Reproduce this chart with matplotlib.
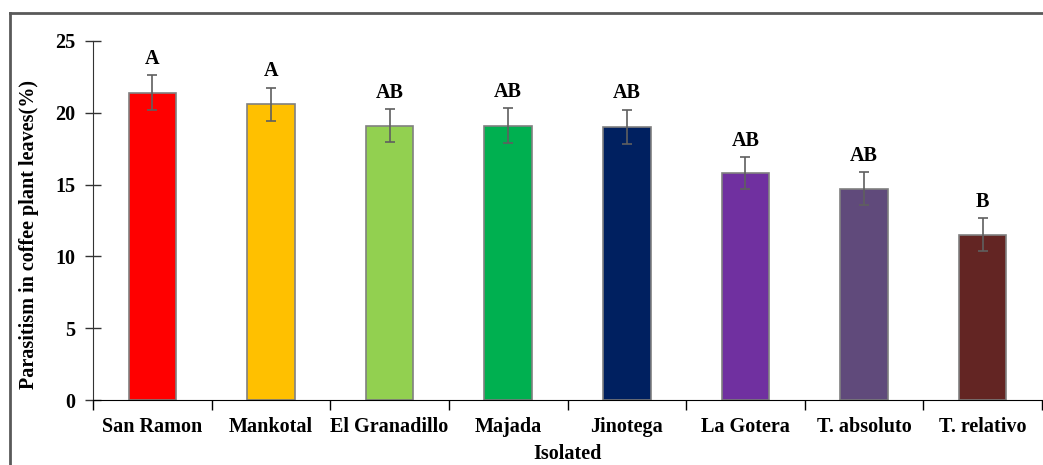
import matplotlib
matplotlib.use("Agg")
import matplotlib.pyplot as plt
from matplotlib.lines import Line2D

# data
sites = ['San Ramon', 'Mankotal', 'El Granadillo', 'Majada', 'Jinotega',
         'La Gotera', 'T. absoluto', 'T. relativo']
parasitism = [21.4, 20.6, 19.1, 19.1, 19.0, 15.8, 14.7, 11.5]
errors = [1.2, 1.15, 1.15, 1.2, 1.2, 1.1, 1.15, 1.15]
letters = ['A', 'A', 'AB', 'AB', 'AB', 'AB', 'AB', 'B']
colors = ['#FF0000', '#FFC000', '#92D050', '#00B050', '#002060',
          '#7030A0', '#604A7B', '#632523']

plt.rcParams['font.family'] = ['Liberation Serif', 'DejaVu Serif']
plt.rcParams['font.weight'] = 'bold'
fs = 14.5

W, H = 1043, 465
fig = plt.figure(figsize=(W / 100, H / 100), dpi=100)
ax = fig.add_axes([93 / W, (H - 400) / H, (1042 - 93) / W, (400 - 41) / H])

x = list(range(len(sites)))
ax.bar(x, parasitism, width=0.4, color=colors, edgecolor='#808080', linewidth=1.2, zorder=2)
ax.errorbar(x, parasitism, yerr=errors, fmt='none', ecolor='#5f5f5f',
            elinewidth=1.2, capsize=3.8, capthick=1.2, zorder=3)

for i in x:
    ax.text(i, parasitism[i] + errors[i] + 0.45, letters[i], ha='center', va='bottom',
            fontsize=fs, fontweight='bold')

ax.set_xlim(-0.5, len(sites) - 0.5)
ax.set_ylim(0, 25)
ax.set_yticks([0, 5, 10, 15, 20, 25])
ax.set_xticks(x)
ax.set_xticklabels(sites)
ax.set_xticks([i - 0.5 for i in range(len(sites) + 1)], minor=True)
ax.tick_params(axis='x', which='major', length=0, pad=12, labelsize=fs)
ax.tick_params(axis='x', which='minor', length=7, width=1, direction='out', color='black')
ax.tick_params(axis='y', direction='inout', length=11, width=1, pad=7, labelsize=fs, color='#333333')

for side in ['top', 'right']:
    ax.spines[side].set_visible(False)
ax.spines['left'].set_color('#333333')
ax.spines['bottom'].set_color('black')

ax.set_xlabel('Isolated', fontsize=fs, fontweight='bold', labelpad=5)
ax.set_ylabel('Parasitism in coffee plant leaves(%)', fontsize=fs, fontweight='bold')
ax.yaxis.set_label_coords(-0.057, 0.46)

# outer frame, cut off at right and bottom
fig.add_artist(Line2D([10 / W, 10 / W], [0, 1 - 13 / H], color='#595959', lw=2))
fig.add_artist(Line2D([10 / W, 1], [1 - 13 / H, 1 - 13 / H], color='#595959', lw=2))

fig.savefig('out.png', dpi=100)
